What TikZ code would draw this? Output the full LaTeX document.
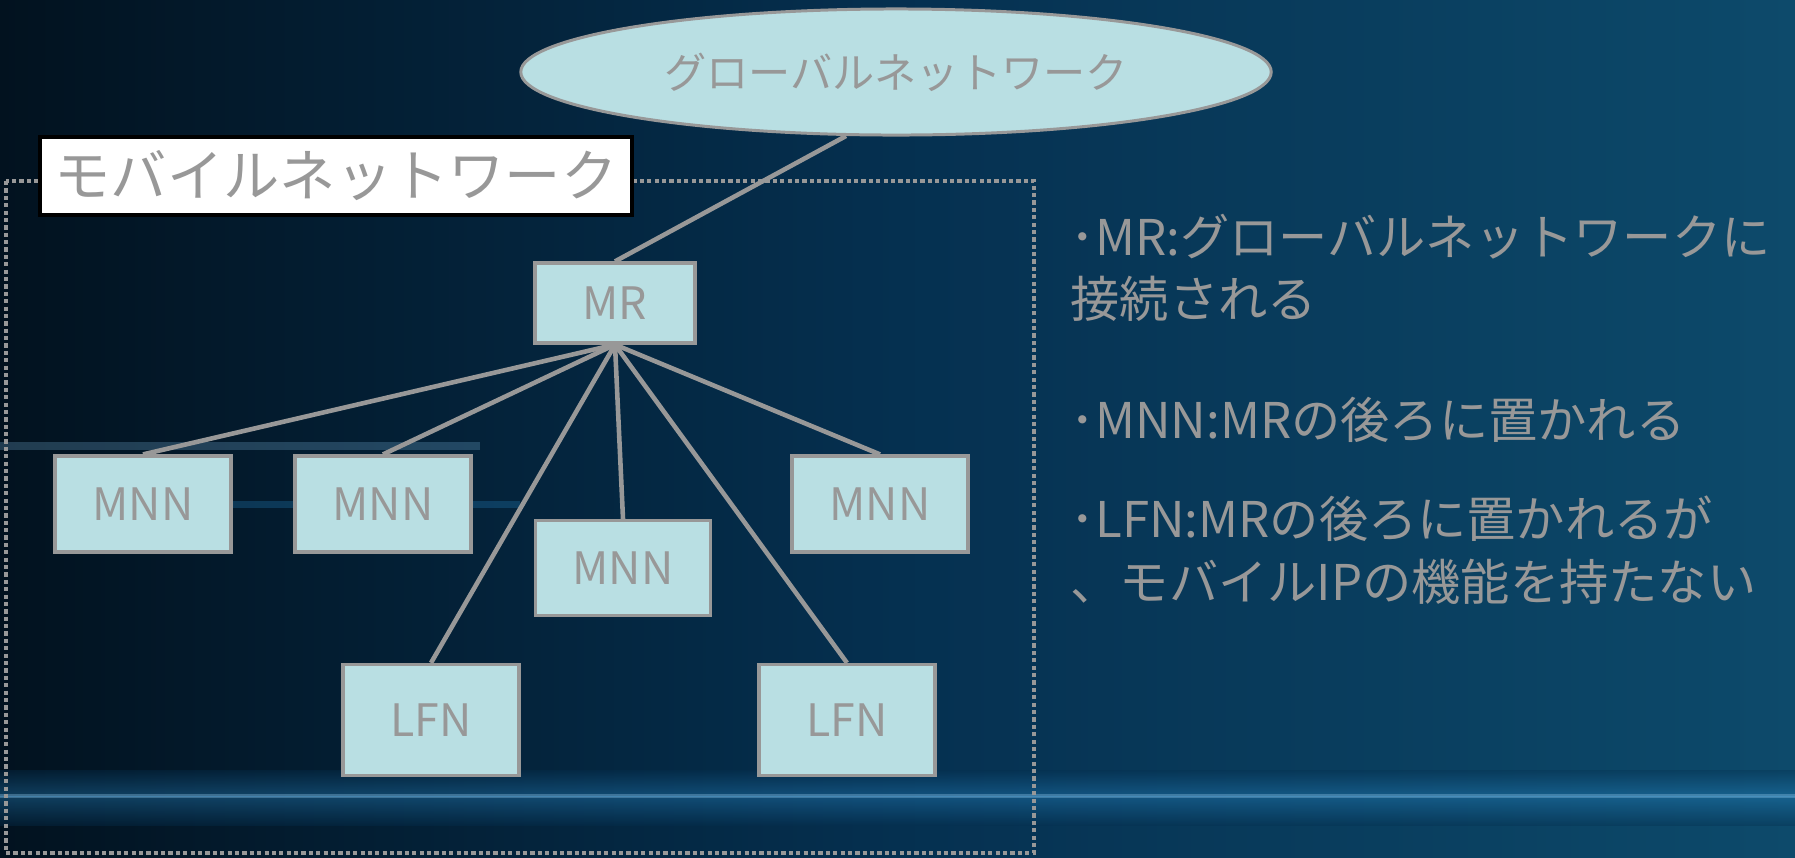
\documentclass[tikz,border=0pt]{standalone}
\usepackage{fontspec}
\setmainfont{Noto Sans CJK JP}
\usetikzlibrary{shapes.geometric}

\definecolor{boxfill}{HTML}{B9DFE3}
\definecolor{txtgrey}{HTML}{989898}
\definecolor{bgdark}{HTML}{02121F}
\definecolor{bgmid}{HTML}{053050}
\definecolor{bgright}{HTML}{0D4A6B}
\definecolor{streak}{HTML}{2A90D2}

\tikzset{
  netbox/.style={draw=txtgrey, line width=0.9pt, fill=boxfill, text=txtgrey,
    minimum width=1.76cm, minimum height=0.96cm, inner sep=0pt,
    font=\fontsize{12.7}{15}\selectfont},
  link/.style={draw=txtgrey, line width=1.3pt},
  note/.style={text=txtgrey, anchor=west, align=left, inner sep=0pt,
    font=\fontsize{14}{17.8}\selectfont}
}

\begin{document}
\begin{tikzpicture}[x=0.01cm, y=-0.01cm]
        % Background
        \useasboundingbox (0,0) rectangle (1795,857);
        \shade[left color=bgdark, right color=bgright, middle color=bgmid] (0,0) rectangle (1795,857);
        \shade[top color=bgmid, bottom color=streak, opacity=0.35] (0,770) rectangle (1795,796);
        \shade[top color=streak, bottom color=bgmid, opacity=0.35] (0,796) rectangle (1795,825);
        \draw[streak!50!white, opacity=0.35, line width=1pt] (0,796) -- (1795,796);
        \draw[streak!60!white, opacity=0.25, line width=2pt] (0,446) -- (480,446);
        \draw[streak, opacity=0.25, line width=2pt] (220,504) -- (520,504);
        
        % Mobile network area
        \draw[txtgrey, line width=0.9pt, dash pattern=on 1.2pt off 0.9pt] (6,181) rectangle (1034,853);
        \node[draw=black, line width=1pt, fill=white, text=txtgrey, minimum width=5.92cm,
          minimum height=0.78cm, inner sep=0pt, font=\fontsize{16}{19}\selectfont]
          (mnlabel) at (336,176) {モバイルネットワーク};
        
        % Nodes
        \node[ellipse, draw=txtgrey, line width=0.85pt, fill=boxfill, text=txtgrey,
          minimum width=7.5cm, minimum height=1.26cm, inner sep=0pt,
          font=\fontsize{12}{14}\selectfont] (glob) at (896,72) {グローバルネットワーク};
        \node[netbox, minimum width=1.6cm, minimum height=0.8cm] (mr) at (615,303) {MR};
        \node[netbox] (mnn1) at (143,504) {MNN};
        \node[netbox] (mnn2) at (383,504) {MNN};
        \node[netbox, minimum width=1.75cm, minimum height=0.95cm] (mnn3) at (623,568) {MNN};
        \node[netbox] (mnn4) at (880,504) {MNN};
        \node[netbox, minimum height=1.11cm] (lfn1) at (431,720) {LFN};
        \node[netbox, minimum height=1.11cm] (lfn2) at (847,720) {LFN};
        
        % Links
        \draw[link] (glob.-128) -- (mr.north);
        \foreach \n in {mnn1,mnn2,mnn3,mnn4,lfn1,lfn2}
            \draw[link] (mr.south) -- (\n.north);
        
        % Notes
        \node[note] (notemr) at (1070,268) {･MR:グローバルネットワークに\\接続される};
        \node[note] (notemnn) at (1070,420) {･MNN:MRの後ろに置かれる};
        \node[note] (notelfn) at (1070,550) {･LFN:MRの後ろに置かれるが\\、モバイルIPの機能を持たない};
    \end{tikzpicture}
\end{document}
